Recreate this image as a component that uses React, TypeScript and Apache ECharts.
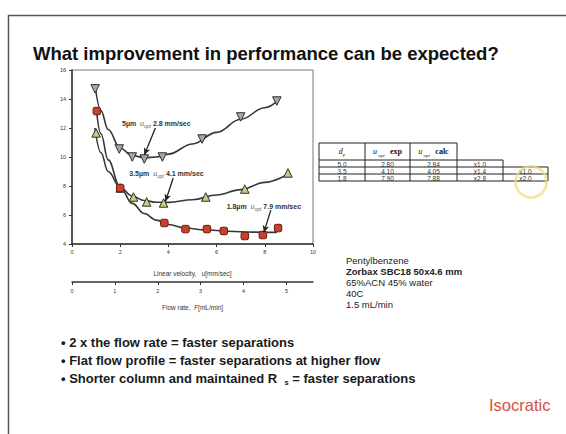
import React, { useEffect, useRef } from "react";
import * as echarts from "echarts";

// ---- data ----
const u5Markers: number[][] = [[0.96, 14.7], [1.96, 10.55], [2.5, 10.0], [3.0, 9.86], [3.75, 10.0], [5.4, 11.24], [7.0, 12.76], [8.5, 13.86]];
const u35Markers: number[][] = [[1.0, 11.66], [2.0, 7.86], [2.55, 7.24], [3.1, 6.9], [3.8, 6.83], [5.55, 7.24], [7.17, 7.79], [8.96, 8.9]];
const u18Markers: number[][] = [[1.03, 13.17], [2.0, 7.86], [3.83, 5.45], [4.71, 5.03], [5.6, 5.03], [6.3, 4.9], [7.17, 4.55], [7.92, 4.62], [8.55, 5.1]];

const u5Curve: number[][] = [[0.95, 15.0], [1.2, 13.2], [1.5, 11.9], [2.0, 10.6], [2.5, 10.1], [3.0, 9.95], [3.5, 10.0], [4.0, 10.2], [5.0, 10.9], [6.0, 11.7], [7.0, 12.6], [8.0, 13.4], [8.55, 13.9]];
const u35Curve: number[][] = [[0.95, 12.0], [1.2, 10.3], [1.5, 9.0], [2.0, 7.9], [2.5, 7.3], [3.0, 7.0], [3.5, 6.88], [4.0, 6.87], [5.0, 7.05], [6.0, 7.38], [7.0, 7.75], [8.0, 8.25], [9.0, 8.85]];
const u18Curve: number[][] = [[1.0, 13.4], [1.2, 11.6], [1.5, 9.8], [2.0, 7.9], [2.5, 6.8], [3.0, 6.1], [3.5, 5.65], [4.0, 5.35], [4.7, 5.1], [5.5, 4.98], [6.5, 4.88], [7.5, 4.82], [8.5, 4.8]];

// annotation: label position, arrow start, arrow end (data space)
const noteSizes = ["5µm", "3.5µm", "1.8µm"];
const noteUopt = ["2.8", "4.1", "7.9"];
const noteLabelPos: number[][] = [[3.5, 12.34], [3.92, 8.83], [7.96, 6.62]];
const noteArrowFrom: number[][] = [[3.46, 12.0], [4.2, 8.55], [8.25, 6.34]];
const noteArrowTo: number[][] = [[3.0, 10.14], [3.88, 6.95], [7.96, 4.8]];

const flowTicks = [0, 1, 2, 3, 4, 5];
const flowMax = 5.62;

const tableDp = ["5.0", "3.5", "1.8"];
const tableExp = ["2.80", "4.10", "7.90"];
const tableCalc = ["2.84", "4.05", "7.88"];
const tableRatio1 = ["x1.0", "x1.4", "x2.8"];
const tableRatio2 = ["", "x1.0", "x2.0"];

const conditions = ["Pentylbenzene", "Zorbax SBC18 50x4.6 mm", "65%ACN 45% water", "40C", "1.5 mL/min"];
const bullets = [
  "2 x the flow rate = faster separations",
  "Flat flow profile = faster separations at higher flow",
];
const title = "What improvement in performance can be expected?";

const FONT = "Liberation Sans, Arial, sans-serif";
const SERIF = "Liberation Serif, Times New Roman, serif";

function buildTable(): any[] {
  const xs = [319, 365, 410, 457, 503, 548];
  const ys = [143, 160, 167, 174, 181];
  const els: any[] = [];
  const line = (x1: number, y1: number, x2: number, y2: number) =>
    els.push({ type: "line", shape: { x1, y1, x2, y2 }, style: { stroke: "#222", lineWidth: 1 } });
  line(xs[0], ys[0], xs[3], ys[0]);
  for (let c = 0; c <= 3; c++) line(xs[c], ys[0], xs[c], ys[1]);
  line(xs[0], ys[1], xs[4], ys[1]);
  for (let c = 0; c <= 4; c++) line(xs[c], ys[1], xs[c], ys[2]);
  line(xs[0], ys[2], xs[5], ys[2]);
  line(xs[0], ys[3], xs[5], ys[3]);
  line(xs[0], ys[4], xs[5], ys[4]);
  for (let c = 0; c <= 5; c++) line(xs[c], ys[2], xs[c], ys[4]);
  const cx = (c: number) => (xs[c] + xs[c + 1]) / 2;
  const hy = (ys[0] + ys[1]) / 2;
  const headerRich = {
    i: { fontFamily: SERIF, fontStyle: "italic", fontSize: 8, fill: "#111", verticalAlign: "middle", lineHeight: 10 },
    s: { fontFamily: SERIF, fontStyle: "italic", fontSize: 5, fill: "#111", verticalAlign: "bottom", lineHeight: 10 },
    t: { fontFamily: SERIF, fontSize: 8, fontWeight: "bold", fill: "#111", verticalAlign: "middle", lineHeight: 10 },
  };
  els.push({ type: "text", x: cx(0), y: hy, style: { text: "{i|d}{s|p}", rich: headerRich, align: "center", verticalAlign: "middle" } });
  els.push({ type: "text", x: cx(1), y: hy, style: { text: "{i|u}{s| opt} {t| exp}", rich: headerRich, align: "center", verticalAlign: "middle" } });
  els.push({ type: "text", x: cx(2), y: hy, style: { text: "{i|u}{s| opt} {t| calc}", rich: headerRich, align: "center", verticalAlign: "middle" } });
  const cols = [tableDp, tableExp, tableCalc, tableRatio1, tableRatio2];
  for (let r = 0; r < 3; r++) {
    const yy = (ys[r + 1] + ys[r + 2]) / 2 + 0.5;
    for (let c = 0; c < 5; c++) {
      const v = cols[c][r];
      if (!v) continue;
      els.push({ type: "text", x: cx(c), y: yy, style: { text: v, fontFamily: FONT, fontSize: 6.5, fill: "#333", align: "center", verticalAlign: "middle" } });
    }
  }
  els.push({ type: "circle", shape: { cx: 531, cy: 182, r: 15.5 }, style: { fill: "none", stroke: "rgba(236,222,120,0.75)", lineWidth: 2.5 } });
  return els;
}

export default function App() {
  const ref = useRef<HTMLDivElement>(null);
  useEffect(() => {
    if (!ref.current) return;
    const chart = echarts.init(ref.current, undefined, { renderer: "svg" });
    const curveStyle = { color: "#383838", width: 1.6 };
    const arrowData = noteSizes.map((_, i) => [{ coord: noteArrowFrom[i] }, { coord: noteArrowTo[i] }]);

    const graphics: any[] = [
      { type: "line", shape: { x1: 8, y1: 15.5, x2: 566, y2: 15.5 }, style: { stroke: "#555", lineWidth: 1.5 } },
      { type: "line", shape: { x1: 8.5, y1: 15, x2: 8.5, y2: 434 }, style: { stroke: "#555", lineWidth: 1.5 } },
      { type: "text", x: 33, y: 53, style: { text: title, fontFamily: FONT, fontWeight: "bold", fontSize: 18.5, fill: "#111", verticalAlign: "middle" } },
      ...conditions.map((t, i) => ({
        type: "text", x: 346, y: 260 + i * 11,
        style: { text: t, fontFamily: FONT, fontSize: 9.5, fontWeight: i === 1 ? "bold" : "normal", fill: "#222", verticalAlign: "middle" },
      })),
      ...bullets.map((t, i) => ({
        type: "text", x: 61, y: 342 + i * 18,
        style: { text: "• " + t, fontFamily: FONT, fontSize: 13, fontWeight: "bold", fill: "#1a1a1a", verticalAlign: "middle" },
      })),
      {
        type: "text", x: 61, y: 378,
        style: {
          text: "{m|• Shorter column and maintained R  }{s|s}{m| = faster separations}",
          verticalAlign: "middle",
          rich: {
            m: { fontFamily: FONT, fontSize: 13, fontWeight: "bold", fill: "#1a1a1a", lineHeight: 16, verticalAlign: "middle" },
            s: { fontFamily: FONT, fontSize: 7.5, fontWeight: "bold", fill: "#1a1a1a", lineHeight: 16, verticalAlign: "bottom" },
          },
        },
      },
      { type: "text", x: 489, y: 405, style: { text: "Isocratic", fontFamily: FONT, fontSize: 16.5, fill: "#d6503c", verticalAlign: "middle" } },
      ...buildTable(),
    ];

    chart.setOption({
      animation: false,
      backgroundColor: "#fff",
      grid: [
        { left: 72, top: 70, width: 241, height: 174, show: true, borderColor: "#777", borderWidth: 1 },
        { left: 72, top: 281, width: 241, height: 1 },
      ],
      xAxis: [
        {
          type: "value", gridIndex: 0, min: 0, max: 10, interval: 2,
          axisLine: { show: true, lineStyle: { color: "#333", width: 1.5 } },
          axisTick: { show: true, length: 3, lineStyle: { color: "#333" } },
          axisLabel: { fontSize: 5.5, color: "#333", margin: 5, fontFamily: FONT },
          splitLine: { show: false },
          name: "Linear velocity,   {i|u}[mm/sec]",
          nameLocation: "middle", nameGap: 26,
          nameTextStyle: { fontSize: 6.5, color: "#333", fontFamily: FONT, rich: { i: { fontStyle: "italic", fontSize: 6.5, color: "#333" } } },
        },
        {
          type: "value", gridIndex: 1, min: 0, max: flowMax,
          axisLine: { show: true, lineStyle: { color: "#333", width: 1.5 } },
          axisTick: { show: true, length: 3, customValues: flowTicks, lineStyle: { color: "#333" } },
          axisLabel: { fontSize: 5.5, color: "#333", margin: 6, customValues: flowTicks, fontFamily: FONT },
          splitLine: { show: false },
          name: "Flow rate,  {i|F}[mL/min]",
          nameLocation: "middle", nameGap: 22,
          nameTextStyle: { fontSize: 6.5, color: "#333", fontFamily: FONT, rich: { i: { fontStyle: "italic", fontSize: 6.5, color: "#333" } } },
        },
      ],
      yAxis: [
        {
          type: "value", gridIndex: 0, min: 4, max: 16, interval: 2,
          axisLine: { show: true, lineStyle: { color: "#333", width: 1.5 } },
          axisTick: { show: true, length: 3, lineStyle: { color: "#333" } },
          axisLabel: { fontSize: 5.5, color: "#333", margin: 6, fontFamily: FONT },
          splitLine: { show: false },
        },
        { type: "value", gridIndex: 1, min: 0, max: 1, show: false },
      ],
      series: [
        {
          type: "line", data: u5Curve, smooth: 0.4, smoothMonotone: "x", showSymbol: false, lineStyle: curveStyle, z: 2,
          markLine: {
            silent: true, symbol: ["none", "arrow"], symbolSize: [5, 7], animation: false,
            lineStyle: { color: "#222", width: 1.3, type: "solid" },
            label: { show: false },
            data: arrowData,
          },
        },
        { type: "line", data: u35Curve, smooth: 0.4, smoothMonotone: "x", showSymbol: false, lineStyle: curveStyle, z: 2 },
        { type: "line", data: u18Curve, smooth: 0.4, smoothMonotone: "x", showSymbol: false, lineStyle: curveStyle, z: 2 },
        {
          type: "scatter", data: u5Markers, symbol: "triangle", symbolRotate: 180, symbolSize: 8.5, z: 3,
          itemStyle: { color: "#a8a89c", borderColor: "#2e2e2e", borderWidth: 1, opacity: 1 },
        },
        {
          type: "scatter", data: u35Markers, symbol: "triangle", symbolSize: 8.5, z: 3,
          itemStyle: { color: "#cfc77c", borderColor: "#2e2e2e", borderWidth: 1, opacity: 1 },
        },
        {
          type: "scatter", data: u18Markers, symbol: "roundRect", symbolSize: 7.5, z: 3,
          itemStyle: { color: "#c8412f", borderColor: "#6b1a10", borderWidth: 1, opacity: 1 },
        },
      ],
      graphic: graphics,
    });

    // annotation labels placed through the chart's own coordinate conversion
    const noteRich = {
      b: { fontSize: 7, fontWeight: "bold", fill: "#333", fontFamily: FONT, verticalAlign: "middle", lineHeight: 10 },
      u: { fontStyle: "italic", fontSize: 7, fill: "#666", fontFamily: FONT, verticalAlign: "middle", lineHeight: 10 },
      o: { fontStyle: "italic", fontSize: 5, fill: "#666", fontFamily: FONT, verticalAlign: "bottom", lineHeight: 10 },
    };
    const noteEls = noteSizes.map((s, i) => {
      const p = chart.convertToPixel({ gridIndex: 0 }, noteLabelPos[i]) as number[];
      return {
        type: "text", x: p[0], y: p[1], z: 10,
        style: {
          text: `{b|${s}  }{u|u}{o|opt}{b| ${noteUopt[i]} mm/sec}`,
          rich: noteRich, align: "center", verticalAlign: "middle",
        },
      };
    });
    chart.setOption({ graphic: [...graphics, ...noteEls] });
    return () => chart.dispose();
  }, []);
  return <div ref={ref} style={{ position: "absolute", left: 0, top: 0, width: 566, height: 434, background: "#fff" }} />;
}
